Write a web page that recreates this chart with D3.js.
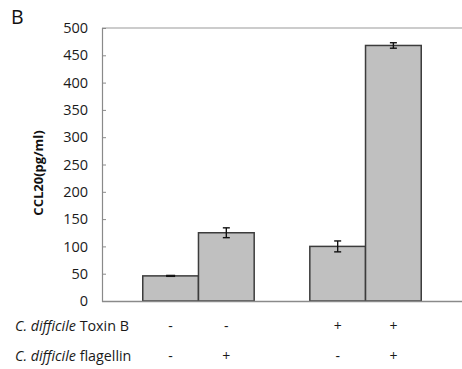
<!DOCTYPE html>
<html>
<head>
<meta charset="utf-8">
<script src="https://cdn.jsdelivr.net/npm/d3@7"></script>
<style>
  html, body { margin: 0; padding: 0; background: #fff; }
  svg { display: block; font-family: "Open Sans", "Noto Sans", sans-serif; }
</style>
</head>
<body>
<svg id="chart" width="462" height="369"></svg>
<script>
// CCL20 secretion under Toxin B / flagellin stimulation
const groups = ["toxinNeg", "toxinPos"];
const subgroups = ["flagNeg", "flagPos"];
const values = [46, 125, 100, 468];      // pg/ml, bar order: group x subgroup
const errors = [1.2, 9, 10, 5];
const toxinSigns = ["-", "-", "+", "+"];
const flagellinSigns = ["-", "+", "-", "+"];
const yTicks = [0, 50, 100, 150, 200, 250, 300, 350, 400, 450, 500];

const svg = d3.select("#chart");
const margin = { left: 102, right: 0, top: 28, bottom: 68 };
const W = 462, H = 369;

// zero line sits at y = 301
const y = d3.scaleLinear().domain([0, 500]).range([H - margin.bottom, margin.top]);

const x0 = d3.scaleBand().domain(groups).range([margin.left, W])
  .paddingInner(0.333).paddingOuter(0.244);
const x1 = d3.scaleBand().domain(subgroups).range([0, x0.bandwidth()]);

const bars = values.map((v, i) => ({
  group: groups[Math.floor(i / 2)],
  sub: subgroups[i % 2],
  value: v,
  err: errors[i],
  toxin: toxinSigns[i],
  flag: flagellinSigns[i]
}));
bars.forEach(d => { d.x = x0(d.group) + x1(d.sub); d.cx = d.x + x1.bandwidth() / 2; });

// top frame line
svg.append("line")
  .attr("x1", margin.left).attr("x2", W)
  .attr("y1", y(500)).attr("y2", y(500))
  .attr("stroke", "#9a9a9a").attr("stroke-width", 1.2);

// y axis with inward ticks
const yAxis = svg.append("g")
  .attr("transform", `translate(${margin.left},0)`)
  .call(d3.axisLeft(y).tickValues(yTicks).tickSize(-4).tickPadding(14));
yAxis.select(".domain").attr("stroke", "#8a8a8a").attr("stroke-width", 1.2);
yAxis.selectAll(".tick line").attr("stroke", "#8a8a8a");
yAxis.selectAll(".tick text")
  .attr("font-size", 14.5).attr("fill", "#1a1a1a")
  .attr("font-family", "\"Open Sans\", sans-serif");

// bars
svg.append("g").selectAll("rect").data(bars).join("rect")
  .attr("x", d => d.x)
  .attr("y", d => y(d.value))
  .attr("width", x1.bandwidth())
  .attr("height", d => y(0) - y(d.value))
  .attr("fill", "#c0c0c0")
  .attr("stroke", "#3c3c3c")
  .attr("stroke-width", 1.5);

// baseline
svg.append("line")
  .attr("x1", margin.left).attr("x2", W)
  .attr("y1", y(0) + 0.5).attr("y2", y(0) + 0.5)
  .attr("stroke", "#8a8a8a").attr("stroke-width", 1.4);

// error bars
const eb = svg.append("g").attr("stroke", "#111").attr("stroke-width", 1.4);
bars.forEach(d => {
  const cap = d.err < 3 ? 8 : 7;
  if (d.err < 3) {
    eb.append("rect")
      .attr("x", d.cx - cap / 2).attr("y", y(d.value + d.err))
      .attr("width", cap).attr("height", y(d.value - d.err) - y(d.value + d.err))
      .attr("fill", "#111").attr("stroke", "#111").attr("stroke-width", 1);
    return;
  }
  eb.append("line").attr("x1", d.cx).attr("x2", d.cx)
    .attr("y1", y(d.value + d.err)).attr("y2", y(d.value - d.err));
  [d.value + d.err, d.value - d.err].forEach(v => {
    eb.append("line").attr("x1", d.cx - cap / 2).attr("x2", d.cx + cap / 2)
      .attr("y1", y(v)).attr("y2", y(v));
  });
});

// y axis title
svg.append("text")
  .attr("transform", `translate(43,${173}) rotate(-90)`)
  .attr("text-anchor", "middle")
  .attr("font-size", 13).attr("font-weight", "bold").attr("fill", "#111")
  .text("CCL20(pg/ml)");

// panel letter
svg.append("text")
  .attr("x", 11).attr("y", 24)
  .attr("font-size", 19.5).attr("fill", "#111")
  .text("B");

// condition rows
const rows = [
  { label: "Toxin B", key: "toxin", y: 331 },
  { label: "flagellin", key: "flag", y: 361 }
];
rows.forEach(r => {
  const t = svg.append("text")
    .attr("x", 15).attr("y", r.y)
    .attr("font-size", 14.3).attr("fill", "#1a1a1a");
  t.append("tspan").attr("font-style", "italic").text("C. difficile");
  t.append("tspan").text(" " + r.label);
  svg.append("g").selectAll("text").data(bars).join("text")
    .attr("x", d => d.cx).attr("y", r.y)
    .attr("text-anchor", "middle")
    .attr("font-size", 14).attr("fill", "#1a1a1a")
    .text(d => d[r.key]);
});
</script>
</body>
</html>
